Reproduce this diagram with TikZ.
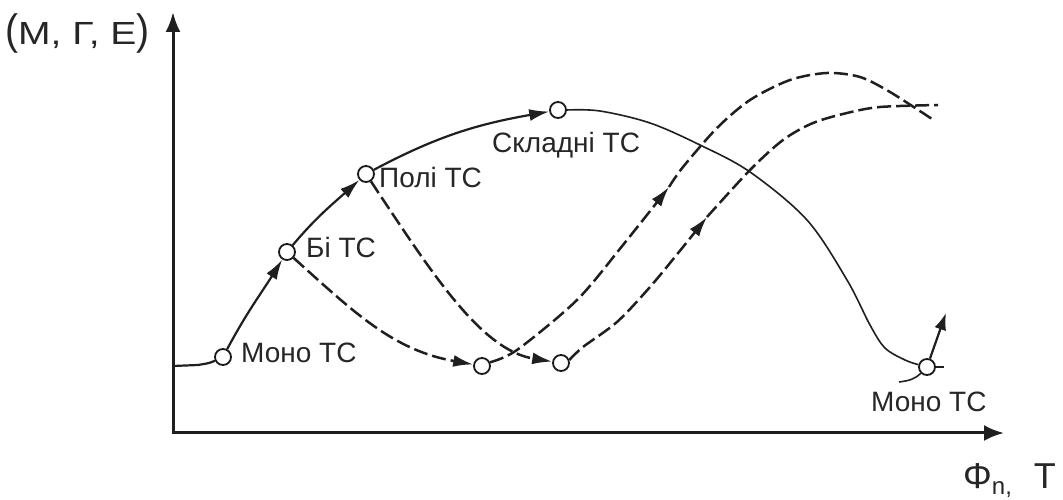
\documentclass[tikz,border=0pt]{standalone}
\usepackage{fontspec}
\setmainfont{Liberation Sans}
\usetikzlibrary{arrows.meta}
\begin{document}
\begin{tikzpicture}[x=1pt,y=1pt,
  pt/.style={circle,draw=black!90,line width=1.8pt,fill=white,minimum size=16pt,inner sep=0pt},
  lbl/.style={inner sep=0pt,anchor=base west,text=black!85,font=\fontsize{28}{30}\selectfont},
  axisline/.style={line width=3pt,draw=black!88},
  mainline/.style={line width=2.2pt,draw=black!88},
  thinline/.style={line width=1.6pt,draw=black!88},
  dashline/.style={line width=2.5pt,draw=black!88,dash pattern=on 14pt off 5pt},
  tipend/.style={-{Latex[length=20pt,width=12pt]}}
]
\useasboundingbox (0,0) rectangle (1063,500);

% axes
\coordinate (O) at (173,67);
\coordinate (ytip) at (173,488);
\coordinate (xtip) at (1004,67);
\draw[axisline,{Latex[length=20pt,width=15pt]}-{Latex[length=20pt,width=16pt]}] (ytip) -- (O) -- (xtip);

% state points
\node[pt] (m1) at (223,143) {};
\node[pt] (bi) at (287,248) {};
\node[pt] (poli) at (366,326) {};
\node[pt] (s1) at (482,134) {};
\node[pt] (s2) at (561,137) {};
\node[pt] (top) at (558,390) {};
\node[pt] (m2) at (927,133) {};

% labels
\node[lbl] (l1) at (241,137) {Моно ТС};
\node[lbl] (l2) at (306,242) {Бі ТС};
\node[lbl] (l3) at (379,312) {Полі ТС};
\node[lbl] (l4) at (492,347) {Складні ТС};
\node[lbl] (l5) at (871,88) {Моно ТС};
\node[inner sep=0pt,anchor=base west,text=black!85,font=\fontsize{32}{34}\selectfont] (ylab) at (5,455)
  {\scalebox{1.22}[1]{\scalebox{1}[1.33]{(}М, Г, Е\scalebox{1}[1.33]{)}}};
\node[inner sep=0pt,anchor=base west,text=black!85,font=\fontsize{36}{38}\selectfont] (xlab) at (963,11)
  {Φ\raisebox{-6pt}{\fontsize{24}{24}\selectfont n,}\hspace{22pt}Т};

% main solid path
\coordinate (ax0) at (173,134);
\draw[mainline] (ax0) -- (198,135) to[out=10,in=205] (m1);
\draw[mainline,tipend] (m1) to[out=62,in=238] (bi);
\draw[mainline,tipend] (bi) to[out=50,in=222] (poli);
\draw[mainline,tipend] (poli) to[out=28,in=190] (top);
\draw[thinline] plot[smooth,tension=0.55] coordinates {(top.east) (600,389) (650,377) (700,355) (750,328) (807,280) (847,220) (870,175) (885,152) (905,140) (m2.165)};

% right end details
\coordinate (c1) at (899,118);
\coordinate (c2) at (944,133);
\coordinate (c3) at (946,187);
\draw[thinline] (c1) to[out=8,in=225] (m2);
\draw[thinline] (m2) -- (c2);
\draw[mainline,-{Latex[length=17pt,width=12pt]}] (m2) -- (c3);

% dashed paths
\draw[dashline,tipend] (bi) to[out=-42,in=170] (s1);
\draw[dashline,tipend] (poli) .. controls (430,230) and (480,150) .. (s2);

\coordinate (a3) at (669,313);
\coordinate (e3) at (932,381);
\draw[dashline,tipend] plot[smooth] coordinates {(s1.25) (517,150) (577,200) (623,255) (a3)};
\draw[dashline] plot[smooth] coordinates {(a3) (683,333) (717,372) (750,400) (790,420) (827,427) (860,423) (890,408) (e3)};

\coordinate (a4) at (707,283);
\coordinate (e4) at (938,395);
\draw[dashline,tipend] plot[smooth] coordinates {(s2.20) (583,153) (617,178) (650,213) (683,253) (a4)};
\draw[dashline] plot[smooth] coordinates {(a4) (750,330) (783,360) (813,377) (847,387) (880,393) (e4)};
\end{tikzpicture}
\end{document}
